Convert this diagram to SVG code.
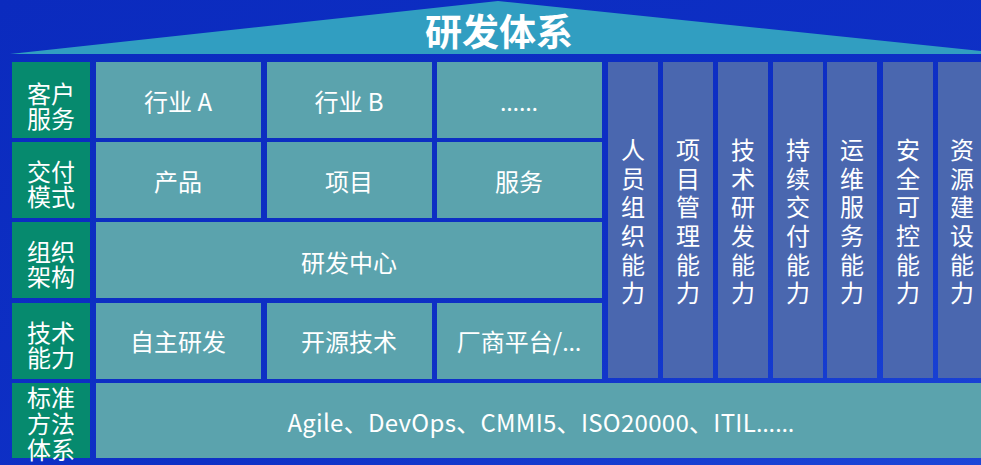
<svg xmlns="http://www.w3.org/2000/svg" width="981" height="465" viewBox="0 0 981 465">
<defs>
<linearGradient id="bg" x1="0" y1="0" x2="1" y2="1">
<stop offset="0" stop-color="#0B2BBE"/>
<stop offset="0.6" stop-color="#0E30C6"/>
<stop offset="1" stop-color="#1C46D8"/>
</linearGradient>
<style>
.lbl{fill:#068A6E}
.box{fill:#5BA3AD}
.col{fill:#4A67AF}
text{font-family:"Noto Sans CJK SC","Noto Sans",sans-serif;fill:#FFFFFF;text-anchor:middle}
.lat{font-family:"Noto Sans",sans-serif}
.t{font-size:24px}
.v{font-size:24px}
.title{font-size:37px;font-weight:bold}
.wide{letter-spacing:0.3px}
</style>
</defs>
<rect x="0" y="0" width="981" height="465" fill="url(#bg)"/>
<g id="roof">
<polygon points="10,54 498,1 981,51 981,54" fill="#319EC1"/>
<text class="title" x="499" y="46">研发体系</text>
</g>
<g id="row-labels">
<g id="lbl-customer"><rect class="lbl" x="12" y="62" width="78" height="76"/><text class="t" x="51" y="103">客户</text><text class="t" x="51" y="128">服务</text></g>
<g id="lbl-delivery"><rect class="lbl" x="12" y="142" width="78" height="76"/><text class="t" x="51" y="181">交付</text><text class="t" x="51" y="206">模式</text></g>
<g id="lbl-org"><rect class="lbl" x="12" y="222" width="78" height="76"/><text class="t" x="51" y="261">组织</text><text class="t" x="51" y="286">架构</text></g>
<g id="lbl-tech"><rect class="lbl" x="12" y="303" width="78" height="76"/><text class="t" x="51" y="342">技术</text><text class="t" x="51" y="367">能力</text></g>
<g id="lbl-std"><rect class="lbl" x="12" y="383" width="78" height="75"/><text class="t" x="51" y="407">标准</text><text class="t" x="51" y="433">方法</text><text class="t" x="51" y="459">体系</text></g>
</g>
<g id="row1">
<g id="industry-a"><rect class="box" x="96" y="62" width="165" height="76"/><text class="t" x="178" y="111">行业 A</text></g>
<g id="industry-b"><rect class="box" x="267" y="62" width="165" height="76"/><text class="t" x="349" y="111">行业 B</text></g>
<g id="industry-more"><rect class="box" x="437" y="62" width="165" height="76"/><text class="t lat" x="519" y="111">……</text></g>
</g>
<g id="row2">
<g id="product"><rect class="box" x="96" y="142" width="165" height="76"/><text class="t" x="178" y="191">产品</text></g>
<g id="project"><rect class="box" x="267" y="142" width="165" height="76"/><text class="t" x="349" y="191">项目</text></g>
<g id="service"><rect class="box" x="437" y="142" width="165" height="76"/><text class="t" x="519" y="191">服务</text></g>
</g>
<g id="row3">
<g id="rd-center"><rect class="box" x="96" y="222" width="506" height="76"/><text class="t" x="349" y="272">研发中心</text></g>
</g>
<g id="row4">
<g id="self-rd"><rect class="box" x="96" y="303" width="165" height="76"/><text class="t" x="178" y="351">自主研发</text></g>
<g id="open-source"><rect class="box" x="267" y="303" width="165" height="76"/><text class="t" x="349" y="351">开源技术</text></g>
<g id="vendor"><rect class="box" x="437" y="303" width="165" height="76"/><text class="t" x="519" y="351">厂商平台/<tspan class="lat">…</tspan></text></g>
</g>
<g id="row5">
<g id="standards"><rect class="box" x="96" y="383" width="885" height="75"/><text class="t wide" x="541" y="432">Agile、DevOps、CMMI5、ISO20000、ITIL<tspan class="lat">……</tspan></text></g>
</g>
<g id="columns">
<g id="col1"><rect class="col" x="608" y="62" width="50" height="316"/><text class="v" x="633"><tspan x="633" y="159">人</tspan><tspan x="633" y="188">员</tspan><tspan x="633" y="216">组</tspan><tspan x="633" y="245">织</tspan><tspan x="633" y="274">能</tspan><tspan x="633" y="302">力</tspan></text></g>
<g id="col2"><rect class="col" x="663" y="62" width="50" height="316"/><text class="v" x="688"><tspan x="688" y="159">项</tspan><tspan x="688" y="188">目</tspan><tspan x="688" y="216">管</tspan><tspan x="688" y="245">理</tspan><tspan x="688" y="274">能</tspan><tspan x="688" y="302">力</tspan></text></g>
<g id="col3"><rect class="col" x="718" y="62" width="50" height="316"/><text class="v" x="743"><tspan x="743" y="159">技</tspan><tspan x="743" y="188">术</tspan><tspan x="743" y="216">研</tspan><tspan x="743" y="245">发</tspan><tspan x="743" y="274">能</tspan><tspan x="743" y="302">力</tspan></text></g>
<g id="col4"><rect class="col" x="773" y="62" width="50" height="316"/><text class="v" x="798"><tspan x="798" y="159">持</tspan><tspan x="798" y="188">续</tspan><tspan x="798" y="216">交</tspan><tspan x="798" y="245">付</tspan><tspan x="798" y="274">能</tspan><tspan x="798" y="302">力</tspan></text></g>
<g id="col5"><rect class="col" x="827" y="62" width="50" height="316"/><text class="v" x="852"><tspan x="852" y="159">运</tspan><tspan x="852" y="188">维</tspan><tspan x="852" y="216">服</tspan><tspan x="852" y="245">务</tspan><tspan x="852" y="274">能</tspan><tspan x="852" y="302">力</tspan></text></g>
<g id="col6"><rect class="col" x="883" y="62" width="50" height="316"/><text class="v" x="908"><tspan x="908" y="159">安</tspan><tspan x="908" y="188">全</tspan><tspan x="908" y="216">可</tspan><tspan x="908" y="245">控</tspan><tspan x="908" y="274">能</tspan><tspan x="908" y="302">力</tspan></text></g>
<g id="col7"><rect class="col" x="938" y="62" width="50" height="316"/><text class="v" x="962"><tspan x="962" y="159">资</tspan><tspan x="962" y="188">源</tspan><tspan x="962" y="216">建</tspan><tspan x="962" y="245">设</tspan><tspan x="962" y="274">能</tspan><tspan x="962" y="302">力</tspan></text></g>
</g>
<g id="connectors"/>
</svg>
